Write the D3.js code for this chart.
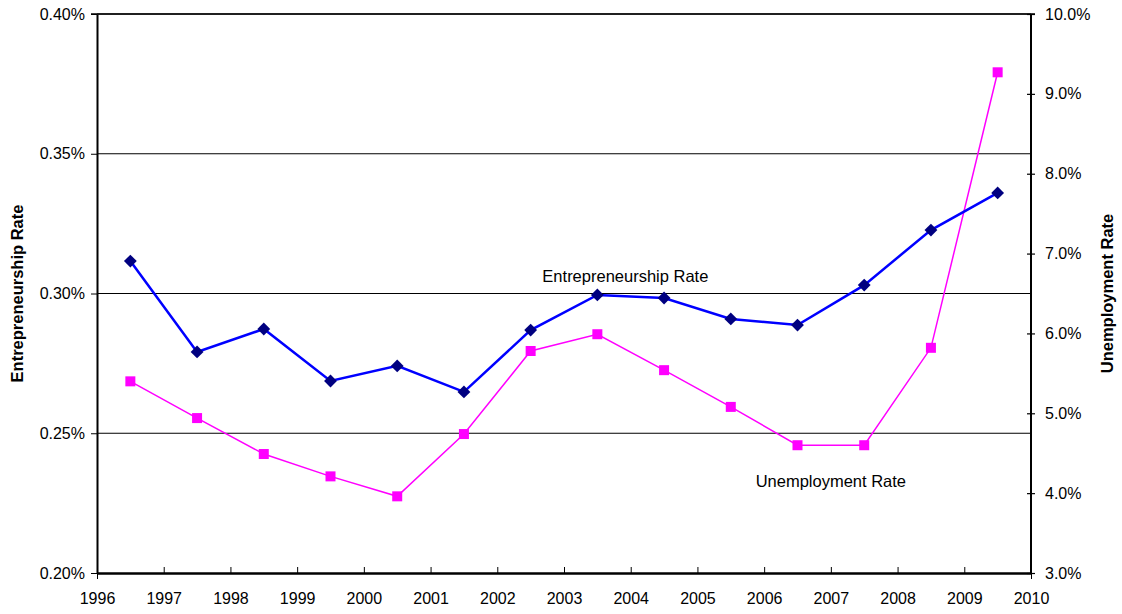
<!DOCTYPE html>
<html>
<head>
<meta charset="utf-8">
<script src="https://cdn.jsdelivr.net/npm/d3@7"></script>
<style>
  body { margin: 0; background: #fff; }
  text { font-family: "Liberation Sans", Arial, sans-serif; fill: #000; }
</style>
</head>
<body>
<div id="chart"></div>
<script>
'use strict';

var years = [1996.5, 1997.5, 1998.5, 1999.5, 2000.5, 2001.5, 2002.5,
             2003.5, 2004.5, 2005.5, 2006.5, 2007.5, 2008.5, 2009.5];
// percent values
var entrepreneurship = [0.3116, 0.2791, 0.2873, 0.2687, 0.2741, 0.2648, 0.2869,
                        0.2995, 0.2984, 0.2909, 0.2887, 0.3030, 0.3227, 0.3360];
var unemployment = [5.40, 4.94, 4.49, 4.21, 3.96, 4.74, 5.78,
                    5.99, 5.54, 5.08, 4.60, 4.60, 5.82, 9.27];
var xTicks = d3.range(1996, 2011);
var leftTicks = [0.20, 0.25, 0.30, 0.35, 0.40];
var rightTicks = [3, 4, 5, 6, 7, 8, 9, 10];

var W = 1122, H = 614;
var margin = {top: 14, right: 91, bottom: 41, left: 97},
  width = W - margin.left - margin.right,
  height = H - margin.top - margin.bottom;

var svg = d3.select("#chart").append("svg")
  .attr("width", W)
  .attr("height", H);

var g = svg.append("g")
  .attr("transform", "translate(" + margin.left + "," + margin.top + ")");

var x = d3.scaleLinear().domain([1996, 2010]).range([0, width]),
  yL = d3.scaleLinear().domain([0.20, 0.40]).range([height, 0]),
  yR = d3.scaleLinear().domain([3, 10]).range([height, 0]);

var tickFont = "16px";

// gridlines
g.selectAll(".grid")
  .data(leftTicks.slice(1))
  .enter().append("line")
  .attr("x1", 0).attr("x2", width)
  .attr("y1", d => yL(d)).attr("y2", d => yL(d))
  .attr("stroke", "#000").attr("stroke-width", 1.2);

// right frame
g.append("line")
  .attr("x1", width).attr("x2", width).attr("y1", 0).attr("y2", height)
  .attr("stroke", "#000").attr("stroke-width", 2);

// left axis
var leftAxis = g.append("g")
  .call(d3.axisLeft(yL).tickValues(leftTicks).tickSize(6).tickSizeOuter(0)
    .tickFormat(d => d.toFixed(2) + "%"));
leftAxis.select(".domain").attr("stroke-width", 2);
leftAxis.selectAll("text").style("font-size", tickFont).attr("x", -12)
  .style("font-family", "Liberation Sans, Arial, sans-serif");

// right axis, ticks cross the line
var rightAxis = g.append("g")
  .attr("transform", "translate(" + width + ",0)")
  .call(d3.axisRight(yR).tickValues(rightTicks).tickSize(4).tickSizeOuter(0)
    .tickFormat(d => d.toFixed(1) + "%"));
rightAxis.select(".domain").remove();
rightAxis.selectAll(".tick line").attr("x1", -4).attr("x2", 4).attr("stroke-width", 1.2);
rightAxis.selectAll("text").style("font-size", tickFont).attr("x", 14)
  .style("font-family", "Liberation Sans, Arial, sans-serif");

// bottom axis, ticks inside
var bottomAxis = g.append("g")
  .attr("transform", "translate(0," + height + ")")
  .call(d3.axisBottom(x).tickValues(xTicks).tickSize(-6).tickSizeOuter(0)
    .tickFormat(d3.format("d")));
bottomAxis.select(".domain").attr("stroke-width", 2.5);
bottomAxis.selectAll(".tick line").filter(d => d === 1996 || d === 2010)
  .attr("y2", 6);
bottomAxis.selectAll("text").style("font-size", tickFont).attr("y", 20)
  .style("font-family", "Liberation Sans, Arial, sans-serif");

// top frame
g.append("line")
  .attr("x1", -6).attr("x2", width + 4).attr("y1", 0).attr("y2", 0)
  .attr("stroke", "#000").attr("stroke-width", 1.5);

// unemployment series
var lineR = d3.line().x((d, i) => x(years[i])).y(d => yR(d));
g.append("path")
  .datum(unemployment)
  .attr("d", lineR)
  .attr("fill", "none")
  .attr("stroke", "#ff00ff")
  .attr("stroke-width", 1.5);
g.selectAll(".sq")
  .data(unemployment)
  .enter().append("rect")
  .attr("x", (d, i) => x(years[i]) - 5)
  .attr("y", d => yR(d) - 5)
  .attr("width", 10).attr("height", 10)
  .attr("fill", "#ff00ff");

// entrepreneurship series
var lineL = d3.line().x((d, i) => x(years[i])).y(d => yL(d));
g.append("path")
  .datum(entrepreneurship)
  .attr("d", lineL)
  .attr("fill", "none")
  .attr("stroke", "#0000ff")
  .attr("stroke-width", 2.5);
g.selectAll(".dia")
  .data(entrepreneurship)
  .enter().append("path")
  .attr("d", d3.symbol().type(d3.symbolDiamond2).size(105))
  .attr("transform", (d, i) => "translate(" + x(years[i]) + "," + yL(d) + ")")
  .attr("fill", "#000080");

// series labels
g.append("text")
  .attr("x", x(2003.92)).attr("y", yL(0.3041))
  .attr("text-anchor", "middle")
  .style("font-size", "16.5px")
  .text("Entrepreneurship Rate");
g.append("text")
  .attr("x", x(2007.0)).attr("y", yR(4.08))
  .attr("text-anchor", "middle")
  .style("font-size", "16.5px")
  .text("Unemployment Rate");

// axis titles
svg.append("text")
  .attr("transform", "translate(23," + (margin.top + height / 2) + ") rotate(-90)")
  .attr("text-anchor", "middle")
  .style("font-size", "16.5px").style("font-weight", "bold")
  .text("Entrepreneurship Rate");
svg.append("text")
  .attr("transform", "translate(1113," + (margin.top + height / 2) + ") rotate(-90)")
  .attr("text-anchor", "middle")
  .style("font-size", "16.5px").style("font-weight", "bold")
  .text("Unemployment Rate");
</script>
</body>
</html>
